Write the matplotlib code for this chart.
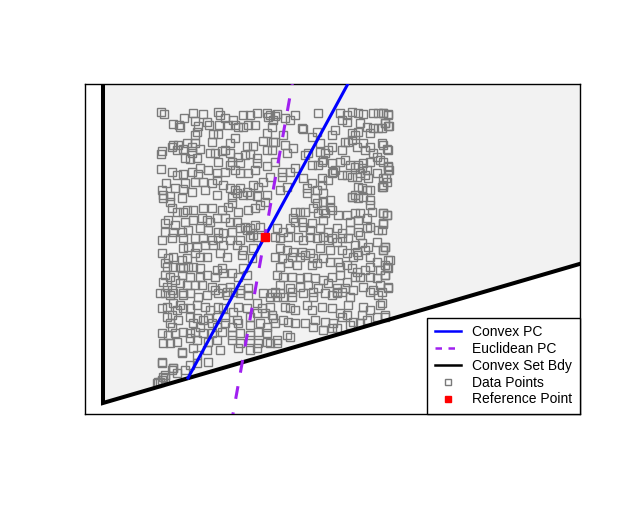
import matplotlib
matplotlib.use("Agg")
import matplotlib.pyplot as plt
from matplotlib.lines import Line2D
import numpy as np

plt.rcParams["font.family"] = ["Liberation Sans", "DejaVu Sans"]

# data (arbitrary units, y grows downward)
data_pts = [
    (161,112),(164,114),(184,118),(193,113),(203,114),(218,112),(220,115),(225,118),(233,120),(243,115),
    (250,115),(257,113),(267,113),(268,117),(275,116),(173,124),(179,125),(180,127),(195,121),(198,126),
    (207,122),(209,125),(219,125),(228,125),(235,125),(238,127),(243,127),(248,125),(255,125),(197,132),
    (195,135),(213,134),(218,134),(235,138),(267,133),(275,142),(263,141),(230,143),(212,142),(173,145),
    (172,147),(178,145),(187,143),(192,147),(195,143),(247,146),(253,146),(162,151),(161,154),(177,150),
    (183,149),(192,153),(200,149),(210,153),(215,153),(222,151),(225,150),(230,153),(238,157),(245,155),
    (250,154),(257,158),(267,150),(272,150),(185,158),(190,159),(197,158),(218,162),(232,162),(240,163),
    (257,163),(267,166),(161,169),(172,172),(177,175),(183,174),(192,172),(198,174),(200,168),(208,170),
    (217,173),(225,172),(230,165),(235,170),(240,173),(248,173),(255,170),(270,177),(166,183),(175,188),
    (185,183),(195,182),(203,182),(212,183),(217,180),(223,185),(230,188),(235,190),(240,188),(247,192),
    (253,185),(258,187),(263,182),(162,190),(163,195),(170,196),(183,189),(192,192),(205,190),(217,195),
    (232,197),(237,193),(243,195),(250,195),(257,196),(267,195),
    (270,115),(277,114),(273,120),(272,127),(285,118),(290,120),(295,115),(318,113),(340,113),(347,115),
    (352,112),(358,113),(363,114),(373,113),(378,113),(383,113),(388,114),(342,120),(347,122),(360,123),
    (367,127),(373,128),(378,128),(385,123),(388,126),(302,128),(303,129),(312,137),(317,132),(335,130),
    (332,135),(352,133),(355,135),(358,132),(370,133),(273,142),(283,135),(285,145),(293,148),(287,153),
    (305,155),(308,153),(320,143),(320,152),(325,153),(328,150),(332,147),(342,150),(345,142),(348,142),
    (352,140),(357,147),(363,143),(365,150),(370,147),(373,153),(382,143),(388,150),(275,162),(282,172),
    (290,172),(295,168),(303,178),(312,165),(318,165),(322,162),(323,160),(332,163),(335,170),(340,162),
    (345,160),(350,165),(355,167),(358,165),(362,168),(363,163),(367,170),(370,162),(377,157),(380,160),
    (388,167),(388,170),(282,177),(280,190),(287,187),(307,188),(307,193),(312,183),(317,190),(322,178),
    (322,185),(323,193),(333,172),(332,173),(342,175),(347,175),(352,177),(357,177),(360,173),(365,175),
    (368,178),(377,173),(383,178),(358,187),(362,188),(367,190),(370,190),(383,185),(382,187),(387,182),
    (328,180),(352,197),(355,195),
    (383,113),(388,115),(385,123),(389,126),(382,128),(383,145),(387,149),(383,162),(388,166),(389,170),
    (386,178),(383,187),(383,213),(387,215),(383,224),(382,230),(385,247),(383,250),(390,260),(387,267),
    (385,275),(388,288),(382,292),(382,303),(385,317),
    (163,198),(170,202),(182,198),(172,208),(177,212),(183,212),(187,210),(193,210),(203,208),(212,208),
    (222,210),(228,207),(232,203),(238,212),(248,210),(255,208),(260,205),(265,202),(168,220),(165,223),
    (175,225),(185,222),(193,220),(202,218),(207,220),(210,222),(217,218),(225,218),(230,222),(237,222),
    (245,227),(250,228),(255,225),(260,227),(165,232),(173,232),(182,232),(188,230),(200,228),(208,230),
    (218,232),(232,232),(240,228),(247,230),(253,235),(162,240),(172,238),(183,238),(195,238),(203,238),
    (212,240),(218,238),(223,233),(230,240),(240,240),(250,237),(257,237),(183,248),(188,247),(197,247),
    (205,245),(213,245),(223,245),(237,245),(243,250),(253,248),(162,253),(168,258),(173,257),(182,260),
    (187,258),(195,253),(200,257),(207,257),(220,253),(227,257),(242,255),(252,258),(165,263),(167,267),
    (173,267),(180,267),(183,268),(188,267),(193,267),(200,268),(207,275),(217,270),(222,268),(232,273),
    (238,277),(243,268),(247,275),(165,275),(170,277),(175,280),(182,275),(190,277),(200,277),(215,277),
    (223,273),(163,282),(167,287),(172,290),(180,283),(187,285),(195,285),(202,285),(212,287),(215,290),
    (222,288),(227,292),(233,292),(240,290),(248,288),(160,293),(173,293),(183,293),(230,287),
    (315,198),(317,203),(323,202),(330,200),(352,197),(358,198),(363,197),(370,200),(370,205),(313,208),
    (318,213),(323,210),(325,213),(330,207),(332,210),(295,212),(300,212),(305,212),(293,218),(295,222),
    (302,222),(312,223),(323,220),(338,215),(347,215),(350,222),(355,213),(358,220),(360,213),(367,218),
    (367,228),(370,227),(378,230),(383,213),(387,215),(383,223),(372,212),(277,228),(283,232),(290,228),
    (303,227),(310,230),(320,228),(328,232),(337,228),(342,233),(350,230),(358,232),(360,235),(275,237),
    (280,238),(288,237),(298,237),(303,240),(310,237),(317,238),(323,237),(328,240),(332,238),(337,242),
    (342,238),(348,238),(355,245),(362,243),(368,247),(377,242),(385,247),(383,250),(280,248),(287,250),
    (293,252),(302,252),(310,253),(320,248),(330,250),(342,250),(347,253),(357,252),(365,250),(275,257),
    (282,258),(292,257),(300,257),(305,255),(313,258),(323,258),(330,262),(338,262),(347,265),(353,257),
    (358,255),(370,257),(377,262),(385,265),(388,260),(388,268),(280,267),(288,263),(297,265),(312,265),
    (317,263),(340,267),(352,268),(357,272),(365,270),(370,267),(380,270),(385,275),(277,275),(283,277),
    (292,277),(300,278),(307,277),(315,278),(323,280),(332,277),(340,275),(347,282),(355,277),(360,277),
    (370,277),(377,278),(280,285),(290,288),(300,287),(308,285),(318,288),(328,283),(337,288),(345,288),
    (353,290),(363,287),(373,290),(380,285),(388,287),(275,292),(292,292),(313,292),(337,292),
    (165,293),(170,295),(183,295),(190,293),(198,297),(207,295),(218,293),(227,295),(240,293),(248,295),
    (263,293),(270,297),(277,297),(162,308),(167,307),(173,303),(180,305),(177,310),(183,308),(190,308),
    (197,305),(205,307),(210,310),(218,307),(223,308),(233,312),(238,307),(247,308),(257,303),(262,308),
    (270,307),(167,317),(172,315),(178,320),(190,317),(197,318),(203,320),(208,318),(217,317),(225,317),
    (237,320),(250,317),(257,313),(265,313),(272,315),(170,323),(172,327),(193,323),(200,327),(212,323),
    (217,327),(225,323),(232,327),(238,323),(250,325),(260,323),(267,327),(275,323),(162,333),(168,335),
    (175,333),(183,332),(190,333),(195,332),(203,333),(212,333),(222,332),(232,335),(240,333),(250,335),
    (258,332),(267,333),(163,343),(170,343),(177,342),(190,338),(197,340),(208,342),(217,340),(232,340),
    (240,343),(250,340),(258,343),(267,342),(182,352),(193,348),(207,350),(220,350),(238,348),(250,350),
    (257,348),(162,362),(173,368),(172,370),(185,370),(190,365),(197,363),(208,362),(165,378),(162,380),
    (177,373),(160,382),
    (272,293),(280,293),(283,297),(292,297),(303,293),(313,297),(325,293),(332,295),(337,293),(342,292),
    (350,297),(370,292),(378,295),(285,307),(290,308),(295,310),(307,305),(312,310),(322,307),(332,308),
    (340,313),(348,305),(363,307),(370,310),(380,305),(385,315),(273,318),(283,320),(288,322),(295,323),
    (305,323),(315,320),(325,322),(333,323),(342,317),(347,315),(353,322),(362,315),(367,320),(377,317),
    (277,340),(270,343),(287,335),(290,337),(313,327),(323,330),(332,328),(337,328),(350,325),(360,323),
    (277,343),
    (182,353),(197,355),(162,363),(173,368),(163,377),(165,375),(158,382),(157,383),
]

bdy_x = [103, 103, 600]
bdy_y = [60, 403, 258]
convex_pc_x = [188, 350]
convex_pc_y = [378, 80]
eucl_pc_x = [231, 294]
eucl_pc_y = [425, 74]
ref_x = [265]
ref_y = [237]

pts = np.array(data_pts)

fig = plt.figure(figsize=(6.23, 5.21), dpi=100)
ax = fig.add_axes([85 / 623, 107 / 521, 495 / 623, 330 / 521])
ax.set_xlim(85, 580)
ax.set_ylim(414, 84)
ax.set_xticks([])
ax.set_yticks([])
for s in ax.spines.values():
    s.set_linewidth(1.0)
    s.set_color("black")

# convex set region
ax.fill(bdy_x + [bdy_x[-1], bdy_x[0]], bdy_y + [bdy_y[0], bdy_y[0]],
        color="#f2f2f2", lw=0, zorder=0)

ax.plot(pts[:, 0], pts[:, 1], "s", ms=5.8, mfc="none", mec="#7a7a7a", mew=1.0, zorder=2)
ax.plot(bdy_x, bdy_y, color="black", lw=2.9, zorder=3, solid_joinstyle="miter")
ax.plot(convex_pc_x, convex_pc_y, color="#0000ff", lw=2.2, zorder=4)
ax.plot(eucl_pc_x, eucl_pc_y, color="#a020f0", lw=2.2, dashes=(4.2, 4.5), zorder=4)
ax.plot(ref_x, ref_y, "s", ms=5.8, color="red", zorder=5)

# legend handles
handles = [
    Line2D([], [], color="#0000ff", lw=1.8),
    Line2D([], [], color="#a020f0", lw=1.8, dashes=(2.6, 2.6)),
    Line2D([], [], color="black", lw=1.8),
    Line2D([], [], ls="none", marker="s", ms=5, mfc="none", mec="#7a7a7a", mew=1.0),
    Line2D([], [], ls="none", marker="s", ms=5, color="red"),
]
labels = ["Convex PC", "Euclidean PC", "Convex Set Bdy", "Data Points", "Reference Point"]
leg = ax.legend(handles, labels, loc="lower right", borderaxespad=0,
                fancybox=False, edgecolor="black", framealpha=1, fontsize=10,
                handlelength=1.9, handletextpad=0.8, labelspacing=0.2,
                borderpad=0.55, numpoints=1)
leg.get_frame().set_linewidth(1.0)
leg.set_zorder(10)

fig.savefig("out.png", dpi=100)
